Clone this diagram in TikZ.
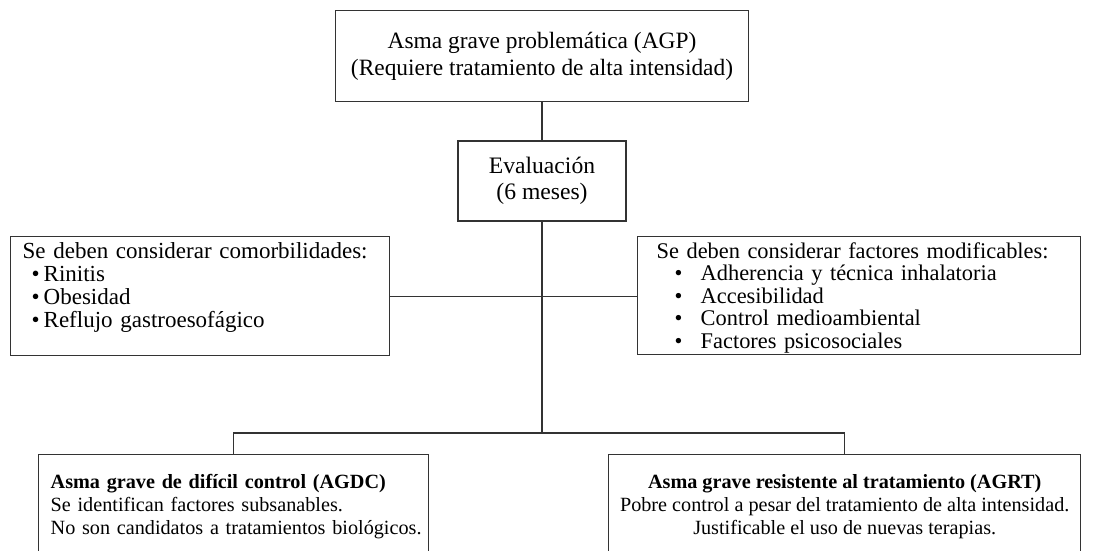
\documentclass[tikz,border=0pt]{standalone}
\usepackage{fontspec}
\setmainfont{Liberation Serif}
\usetikzlibrary{positioning, calc}
\tikzset{
  box/.style={draw=boxgray,line width=0.7pt,inner xsep=4pt,inner ysep=2pt,align=center,font=\fontsize{10.1}{11.4}\selectfont},
  titlebox/.style={box,font=\fontsize{11.7}{13.5}\selectfont},
  listbox/.style={box,align=left,anchor=north west},
  link/.style={draw=boxgray,line width=0.7pt},
}
\definecolor{boxgray}{HTML}{333333}
\newcommand{\comoritem}[1]{\hspace*{4.5pt}\makebox[6pt][l]{\textbullet}\mbox{#1}}
\newcommand{\factitem}[1]{\hspace*{9pt}\makebox[13pt][l]{\textbullet}\mbox{#1}}

\begin{document}
\begin{tikzpicture}[x=0.5pt,y=-0.5pt]
	    \useasboundingbox (0,0) rectangle (1093,551);
	    \node[titlebox,minimum width=206.5pt,minimum height=45.5pt,anchor=north] (agp) at (542,10)
	      {Asma grave problemática (AGP)\\(Requiere tratamiento de alta intensidad)};
	    \node[titlebox,font=\fontsize{11.8}{12.8}\selectfont,minimum width=84pt,minimum height=40pt,below=19pt of agp] (eval)
	      {Evaluación\\(6 meses)};
	    \node[listbox,font=\fontsize{11.5}{11.5}\selectfont,text width=177.5pt,inner xsep=6pt,inner ysep=3pt,minimum height=59.5pt] (comor) at (10,236)
	      {\mbox{Se deben considerar comorbilidades:}\\\comoritem{Rinitis}\\\comoritem{Obesidad}\\
	       \comoritem{Reflujo gastroesofágico}\rule[-10.8pt]{0pt}{10.8pt}};
	    \node[listbox,font=\fontsize{11.2}{11.3}\selectfont,text width=202.5pt,inner xsep=9.5pt,inner ysep=0pt,minimum height=59pt] (factor) at (637,236)
	      {\rule{0pt}{10pt}\mbox{Se deben considerar factores modificables:}\\\factitem{Adherencia y técnica inhalatoria}\\\factitem{Accesibilidad}\\
	       \factitem{Control medioambiental}\\\factitem{Factores psicosociales}};
	    \coordinate (split) at (542,433);
	    \node[listbox,text width=183pt,inner xsep=6pt,minimum height=52pt] (agdc) at (38,454)
	      {\mbox{\textbf{Asma grave de difícil control (AGDC)}}\\\mbox{Se identifican factores subsanables.}\\
	       \mbox{No son candidatos a tratamientos biológicos.}};
	    \node[box,anchor=north west,inner xsep=1pt,minimum width=236pt,minimum height=52pt] (agrt) at (608,454)
	      {\textbf{Asma grave resistente al tratamiento (AGRT)}\\Pobre control a pesar del tratamiento de alta intensidad.\\Justificable el uso de nuevas terapias.};
	    \draw[link] (agp) -- (eval);
	    \draw[link] (comor.east) -- (comor.east -| factor.west);
	    \draw[link] (eval) -- (split);
	    \draw[link] (agdc.north) |- (split) -| (agrt.north);
	\end{tikzpicture}
\end{document}
